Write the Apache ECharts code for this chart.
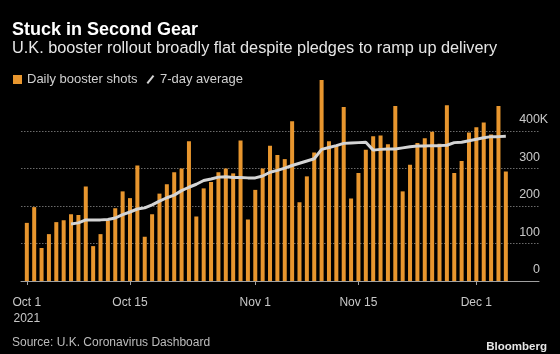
<!DOCTYPE html>
<html>
<head>
<meta charset="utf-8">
<script src="https://cdn.jsdelivr.net/npm/echarts@6/dist/echarts.min.js"></script>
<style>
  html, body { margin: 0; padding: 0; background: #000; }
  #chart { width: 560px; height: 354px; }
</style>
</head>
<body>
<div id="chart"></div>
<script>
// daily booster shots (thousands), Oct 1 - Dec 5 2021
const dates = [
  '2021-10-01','2021-10-02','2021-10-03','2021-10-04','2021-10-05','2021-10-06','2021-10-07','2021-10-08',
  '2021-10-09','2021-10-10','2021-10-11','2021-10-12','2021-10-13','2021-10-14','2021-10-15','2021-10-16',
  '2021-10-17','2021-10-18','2021-10-19','2021-10-20','2021-10-21','2021-10-22','2021-10-23','2021-10-24',
  '2021-10-25','2021-10-26','2021-10-27','2021-10-28','2021-10-29','2021-10-30','2021-10-31',
  '2021-11-01','2021-11-02','2021-11-03','2021-11-04','2021-11-05','2021-11-06','2021-11-07','2021-11-08',
  '2021-11-09','2021-11-10','2021-11-11','2021-11-12','2021-11-13','2021-11-14','2021-11-15','2021-11-16',
  '2021-11-17','2021-11-18','2021-11-19','2021-11-20','2021-11-21','2021-11-22','2021-11-23','2021-11-24',
  '2021-11-25','2021-11-26','2021-11-27','2021-11-28','2021-11-29','2021-11-30',
  '2021-12-01','2021-12-02','2021-12-03','2021-12-04','2021-12-05'
];
const shots = [
  155, 197, 88, 125, 157, 162, 178, 176, 252, 93, 125, 161, 194, 239, 221, 308,
  118, 178, 233, 258, 290, 300, 373, 172, 247, 264, 290, 300, 287, 375, 164,
  243, 300, 361, 336, 325, 426, 210, 279, 343, 536, 373, 361, 464, 220, 288, 350,
  386, 388, 365, 467, 239, 310, 368, 381, 398, 366, 469, 288, 320, 396,
  410, 423, 391, 467, 292
];
const avg7 = [
  null, null, null, null, null, null, 152, 155, 163, 163, 163, 164, 168, 177, 184, 192,
  195, 203, 213, 222, 229, 241, 250, 258, 268, 272, 277, 278, 276, 276, 275,
  275, 280, 290, 295, 301, 308, 314, 320, 326, 351, 356, 361, 367, 368, 369, 370,
  349, 351, 352, 352, 355, 358, 360, 360, 361, 361, 362, 369, 370, 374,
  378, 382, 385, 385, 386
];
const tickDates = ['2021-10-01', '2021-10-15', '2021-11-01', '2021-11-15', '2021-12-01'];
const tickLabels = ['Oct 1\n2021', 'Oct 15', 'Nov 1', 'Nov 15', 'Dec 1'];
const yTicks = [0, 100, 200, 300, 400];

const FONT = '"Liberation Sans", Arial, sans-serif';

// x position = day number counted from the first date
const dayNo = s => dates.indexOf(s);
const tickDays = tickDates.map(dayNo);

const chart = echarts.init(document.getElementById('chart'), null, { renderer: 'canvas' });

const option = {
  backgroundColor: '#000',
  animation: false,
  textStyle: { fontFamily: FONT },
  title: [
    {
      text: 'Stuck in Second Gear',
      left: 12, top: 21, padding: 0,
      textStyle: { color: '#fff', fontSize: 18, fontWeight: 'bold', fontFamily: FONT }
    },
    {
      text: 'U.K. booster rollout broadly flat despite pledges to ramp up delivery',
      left: 12, top: 41, padding: 0,
      textStyle: { color: '#e6e6e6', fontSize: 16.3, fontWeight: 'normal', fontFamily: FONT }
    },
    {
      text: 'Source: U.K. Coronavirus Dashboard',
      left: 12, top: 337, padding: 0,
      textStyle: { color: '#bdbdbd', fontSize: 12, fontWeight: 'normal', fontFamily: FONT }
    },
    {
      text: 'Bloomberg',
      right: 13, top: 341, padding: 0,
      textStyle: { color: '#e6e6e6', fontSize: 11.5, fontWeight: 'bold', fontFamily: FONT }
    }
  ],
  legend: {
    left: 13, top: 73, padding: 0,
    itemWidth: 9, itemHeight: 9, itemGap: 9,
    textStyle: { color: '#d0d0d0', fontSize: 13, fontFamily: FONT },
    data: [
      { name: 'Daily booster shots', icon: 'rect', itemStyle: { color: '#e8962e' } },
      { name: '7-day average', icon: 'path://M0,10L8,0L10,1.6L2,11.6Z', itemStyle: { color: '#d4d4d4' } }
    ]
  },
  grid: { left: 21, right: 21, top: 131, bottom: 73, containLabel: false, outerBoundsMode: 'none' },
  xAxis: {
    type: 'value',
    min: -0.79,
    max: 69.5,
    axisLine: { show: true, onZero: false, lineStyle: { color: '#a0a0a0', width: 1 } },
    axisTick: { show: true, length: 4, lineStyle: { color: '#a0a0a0' }, customValues: tickDays },
    axisLabel: {
      customValues: tickDays,
      color: '#c8c8c8', fontSize: 12, fontFamily: FONT, margin: 14, lineHeight: 15.5,
      formatter: function (v) {
        const i = tickDays.indexOf(v);
        return i >= 0 ? tickLabels[i] : '';
      }
    },
    splitLine: { show: false }
  },
  yAxis: {
    type: 'value',
    position: 'right',
    min: 0, max: 400, interval: 100,
    axisLine: { show: false },
    axisTick: { show: false },
    splitLine: { show: true, lineStyle: { color: '#6a6a6a', width: 1, type: [1.5, 1.5] } },
    axisLabel: {
      inside: true,
      margin: -9,
      align: 'right',
      verticalAlign: 'bottom',
      padding: [0, 0, 4, 0],
      color: '#c8c8c8', fontSize: 12.5, fontFamily: FONT,
      formatter: function (v) {
        return '{n|' + v + '}{k|' + (v === yTicks[yTicks.length - 1] ? 'K' : ' ') + '}';
      },
      rich: {
        n: { color: '#c8c8c8', fontSize: 12.5, fontFamily: FONT, lineHeight: 14, align: 'right' },
        k: { color: '#c8c8c8', fontSize: 12.5, fontFamily: FONT, lineHeight: 14, width: 8, align: 'left' }
      }
    }
  },
  series: [
    {
      name: 'Daily booster shots',
      type: 'bar',
      barWidth: 4,
      clip: false,
      itemStyle: { color: '#e8962e' },
      data: dates.map((d, i) => [dayNo(d), shots[i]]),
      z: 2
    },
    {
      name: '7-day average',
      type: 'line',
      showSymbol: false,
      symbol: 'none',
      lineStyle: { color: '#d4d4d4', width: 3 },
      data: dates.map((d, i) => [dayNo(d), avg7[i]]),
      z: 3
    }
  ]
};

chart.setOption(option);
</script>
</body>
</html>
